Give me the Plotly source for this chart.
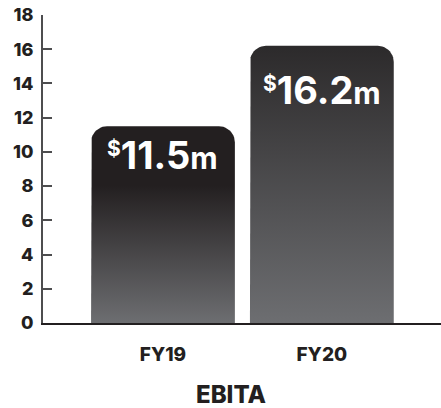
import numpy as np
import plotly.graph_objects as go

# ---- data ----
categories = ["FY19", "FY20"]
ebita = [11.5, 16.2]
label_values = ["11.5", "16.2"]
y_ticks = [0, 2, 4, 6, 8, 10, 12, 14, 16, 18]
chart_title = "EBITA"

# ---- style ----
FONT = "Inter"
DARK = "#231f20"
GREY = "#6d6e71"
bar_scales = [
    [[0, GREY], [0.7, DARK], [1, DARK]],
    [[0, GREY], [1, "#2c2a2b"]],
]
label_shift = [-29, -44]   # px below bar top
bar_width = 0.905
corner_px = 16

W, H = 441, 408
ml, mr, mt, mb = 43, 0, 15, 85
x_range = [-0.755, 1.75]
y_range = [0, 18]
px_per_x = (W - ml - mr) / (x_range[1] - x_range[0])
px_per_y = (H - mt - mb) / (y_range[1] - y_range[0])
rx = corner_px / px_per_x
ry = corner_px / px_per_y


def bar_path(c, v):
    h = bar_width / 2
    t = np.linspace(np.pi, np.pi / 2, 12)
    left_arc_x = (c - h + rx) + rx * np.cos(t)
    left_arc_y = (v - ry) + ry * np.sin(t)
    t2 = np.linspace(np.pi / 2, 0, 12)
    right_arc_x = (c + h - rx) + rx * np.cos(t2)
    right_arc_y = (v - ry) + ry * np.sin(t2)
    xs = [c - h] + list(left_arc_x) + list(right_arc_x) + [c + h, c - h]
    ys = [0] + list(left_arc_y) + list(right_arc_y) + [0, 0]
    return xs, ys


fig = go.Figure()
for i, (cat, v) in enumerate(zip(categories, ebita)):
    xs, ys = bar_path(i, v)
    fig.add_trace(go.Scatter(
        x=xs, y=ys, mode="lines", fill="toself",
        line=dict(width=0, color=DARK),
        fillgradient=dict(type="vertical", colorscale=bar_scales[i], start=0, stop=v),
        hoverinfo="skip", showlegend=False, name=cat,
    ))
    fig.add_annotation(
        x=i, y=v, xref="x", yref="y",
        text=f"<span style='font-size:30px'><sup>$</sup></span>{label_values[i]}<span style='font-size:30px'>m</span>",
        showarrow=False, yanchor="middle", xanchor="center", yshift=label_shift[i],
        font=dict(family=FONT, size=38, color="white", weight=700),
    )

plot_h = H - mt - mb
fig.add_annotation(
    x=(231 - ml) / (W - ml - mr), y=-(394 - (H - mb)) / plot_h,
    xref="paper", yref="paper", text=chart_title, showarrow=False,
    xanchor="center", yanchor="middle",
    font=dict(family=FONT, size=24, color=DARK, weight=800),
)

fig.update_xaxes(
    range=x_range, tickvals=list(range(len(categories))), ticktext=categories,
    showgrid=False, zeroline=False, showline=True, linecolor=DARK, linewidth=1.5,
    ticks="", ticklabelstandoff=13,
    tickfont=dict(family=FONT, size=19, color=DARK, weight=800),
)
fig.update_yaxes(
    range=y_range, tickvals=y_ticks, showgrid=False, zeroline=False,
    showline=True, linecolor="#4d4d4f", linewidth=2,
    ticks="inside", ticklen=9, tickwidth=1.5, tickcolor="#4d4d4f",
    ticklabelstandoff=4,
    tickfont=dict(family=FONT, size=18, color=DARK, weight=800),
)
fig.update_layout(
    width=W, height=H, margin=dict(l=ml, r=mr, t=mt, b=mb),
    paper_bgcolor="white", plot_bgcolor="white",
)
fig.write_html("out.html", config={"displayModeBar": False},
               post_script="document.body.style.margin='0';")
